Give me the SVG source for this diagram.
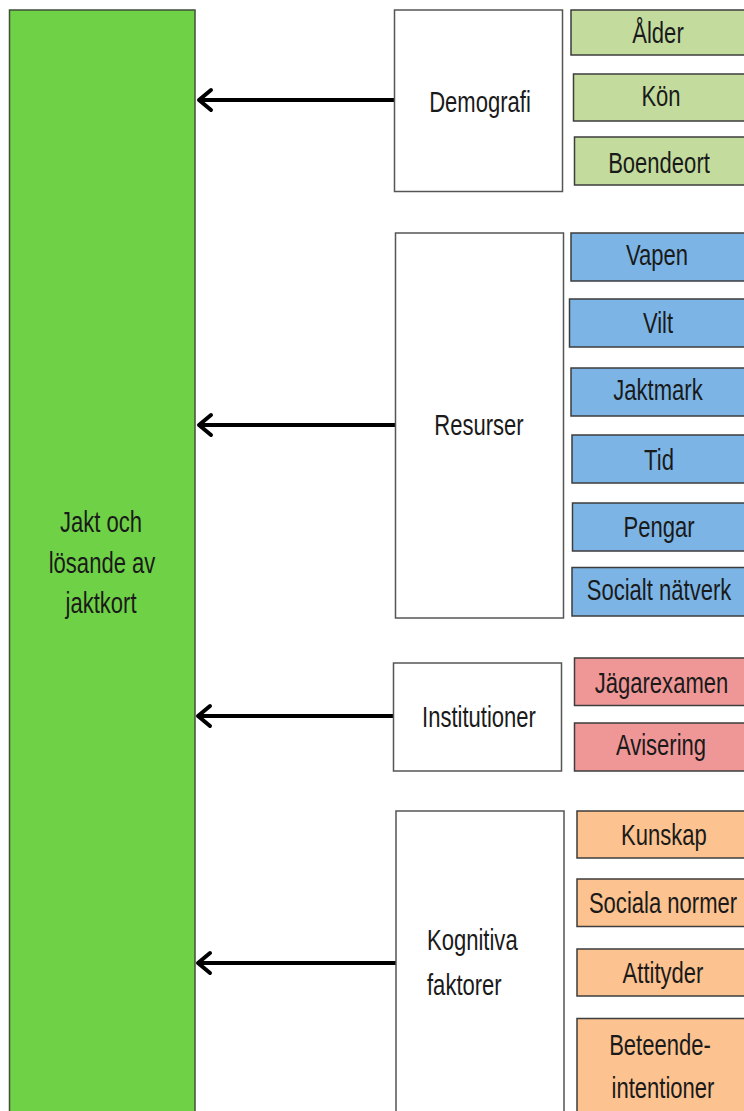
<svg xmlns="http://www.w3.org/2000/svg" width="744" height="1111" viewBox="0 0 744 1111">
<style>
.t{font-family:"Liberation Sans",Arial,sans-serif;font-size:29px;fill:#1a1a1a;text-anchor:middle}
.ts{font-family:"Liberation Sans",Arial,sans-serif;font-size:29px;fill:#1a1a1a;text-anchor:start}
.white{fill:#ffffff;stroke:#555555;stroke-width:1.5}
.main{fill:#6fd246;stroke:#3f4f38;stroke-width:1.5}
.g{fill:#c3dc9d;stroke:#3d3d3d;stroke-width:1.5}
.b{fill:#7cb5e5;stroke:#3d3d3d;stroke-width:1.5}
.p{fill:#ef9797;stroke:#3d3d3d;stroke-width:1.5}
.o{fill:#fcc28f;stroke:#3d3d3d;stroke-width:1.5}
.arr{stroke:#000;stroke-width:4;fill:none}
.head{stroke:#000;stroke-width:4;fill:none;stroke-linecap:round;stroke-linejoin:round}
</style>
<rect width="744" height="1111" fill="#ffffff"/>
<g id="main">
<rect class="main" x="9.5" y="10" width="185.5" height="1110"/>
<g transform="translate(101,531.5) scale(0.76,1)"><text class="t" x="0" y="0">Jakt och</text></g>
<g transform="translate(102,573) scale(0.76,1)"><text class="t" x="0" y="0">lösande av</text></g>
<g transform="translate(101,613) scale(0.76,1)"><text class="t" x="0" y="0">jaktkort</text></g>
</g>
<g id="connectors">
<line class="arr" x1="394" y1="100" x2="200" y2="100"/>
<polyline class="head" points="211,90 199,100 211,110"/>
<line class="arr" x1="395" y1="425" x2="200" y2="425"/>
<polyline class="head" points="211,415 199,425 211,435"/>
<line class="arr" x1="393" y1="716" x2="199" y2="716"/>
<polyline class="head" points="210,706 198,716 210,726"/>
<line class="arr" x1="396" y1="963" x2="199" y2="963"/>
<polyline class="head" points="210,953 198,963 210,973"/>
</g>
<g id="demografi">
<rect class="white" x="394.5" y="10" width="168" height="181.5"/>
<g transform="translate(480,112) scale(0.76,1)"><text class="t" x="0" y="0">Demografi</text></g>
</g>
<g id="alder"><rect class="g" x="571" y="10" width="180" height="45"/>
<g transform="translate(658,43) scale(0.76,1)"><text class="t" x="0" y="0">Ålder</text></g></g>
<g id="kon"><rect class="g" x="573.5" y="74" width="180" height="47"/>
<g transform="translate(661,106) scale(0.76,1)"><text class="t" x="0" y="0">Kön</text></g></g>
<g id="boendeort"><rect class="g" x="574.5" y="137" width="180" height="48"/>
<g transform="translate(659,173) scale(0.76,1)"><text class="t" x="0" y="0">Boendeort</text></g></g>
<g id="resurser">
<rect class="white" x="395.5" y="233" width="168" height="385"/>
<g transform="translate(479,435) scale(0.76,1)"><text class="t" x="0" y="0">Resurser</text></g>
</g>
<g id="vapen"><rect class="b" x="571" y="233" width="180" height="48"/>
<g transform="translate(657,265) scale(0.76,1)"><text class="t" x="0" y="0">Vapen</text></g></g>
<g id="vilt"><rect class="b" x="569.5" y="299" width="180" height="48"/>
<g transform="translate(658,333) scale(0.76,1)"><text class="t" x="0" y="0">Vilt</text></g></g>
<g id="jaktmark"><rect class="b" x="571" y="368" width="180" height="48"/>
<g transform="translate(658,400) scale(0.76,1)"><text class="t" x="0" y="0">Jaktmark</text></g></g>
<g id="tid"><rect class="b" x="572" y="435" width="180" height="48"/>
<g transform="translate(659,470) scale(0.76,1)"><text class="t" x="0" y="0">Tid</text></g></g>
<g id="pengar"><rect class="b" x="572.5" y="503" width="180" height="48"/>
<g transform="translate(659,537) scale(0.76,1)"><text class="t" x="0" y="0">Pengar</text></g></g>
<g id="socialt"><rect class="b" x="572" y="567.5" width="180" height="48.5"/>
<g transform="translate(659,600) scale(0.76,1)"><text class="t" x="0" y="0">Socialt nätverk</text></g></g>
<g id="institutioner">
<rect class="white" x="393.5" y="663" width="168" height="108"/>
<g transform="translate(479,727) scale(0.76,1)"><text class="t" x="0" y="0">Institutioner</text></g>
</g>
<g id="jagarexamen"><rect class="p" x="574.5" y="658" width="180" height="47.5"/>
<g transform="translate(661.5,693) scale(0.76,1)"><text class="t" x="0" y="0">Jägarexamen</text></g></g>
<g id="avisering"><rect class="p" x="574.5" y="723" width="180" height="48"/>
<g transform="translate(661,755) scale(0.76,1)"><text class="t" x="0" y="0">Avisering</text></g></g>
<g id="kognitiva">
<rect class="white" x="396" y="811" width="168" height="320"/>
<g transform="translate(427,950) scale(0.76,1)"><text class="ts" x="0" y="0">Kognitiva</text></g>
<g transform="translate(427,995) scale(0.76,1)"><text class="ts" x="0" y="0">faktorer</text></g>
</g>
<g id="kunskap"><rect class="o" x="577" y="811" width="180" height="47"/>
<g transform="translate(664,845) scale(0.76,1)"><text class="t" x="0" y="0">Kunskap</text></g></g>
<g id="sociala"><rect class="o" x="577" y="879" width="180" height="47.5"/>
<g transform="translate(663,913) scale(0.76,1)"><text class="t" x="0" y="0">Sociala normer</text></g></g>
<g id="attityder"><rect class="o" x="577" y="949" width="180" height="47"/>
<g transform="translate(663,983) scale(0.76,1)"><text class="t" x="0" y="0">Attityder</text></g></g>
<g id="beteende"><rect class="o" x="577" y="1018.5" width="180" height="110"/>
<g transform="translate(660,1055) scale(0.76,1)"><text class="t" x="0" y="0">Beteende-</text></g>
<g transform="translate(663,1098) scale(0.76,1)"><text class="t" x="0" y="0">intentioner</text></g></g>
</svg>
